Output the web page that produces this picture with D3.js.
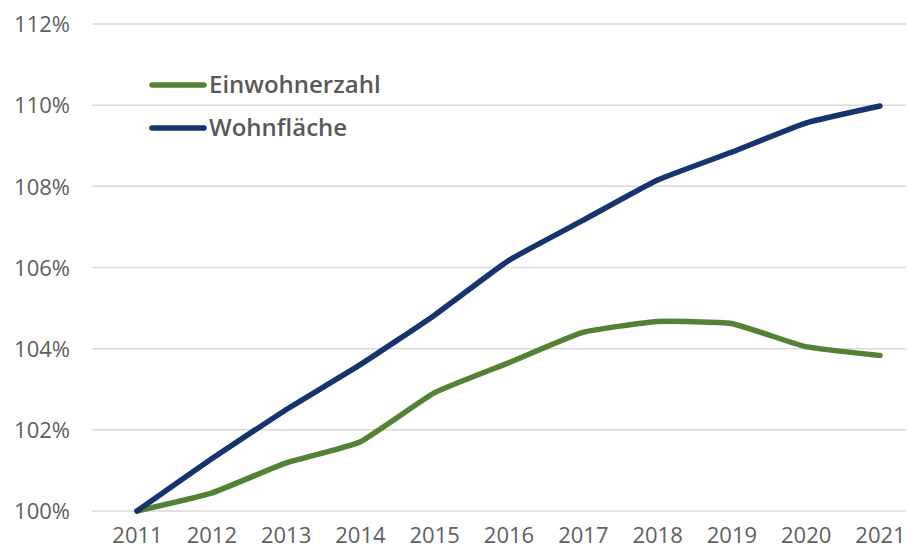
<!DOCTYPE html>
<html><head><meta charset="utf-8">
<script src="https://cdn.jsdelivr.net/npm/d3@7"></script>
<style>body{margin:0;background:#fff}svg{display:block}</style>
</head><body><svg id="c" width="907" height="548"></svg>
<script>
const years = [2011,2012,2013,2014,2015,2016,2017,2018,2019,2020,2021];
const einwohner = [100.0,100.44,101.18,101.7,102.91,103.65,104.4,104.67,104.62,104.05,103.83];
const wohnflaeche = [100.0,101.28,102.49,103.6,104.82,106.17,107.16,108.15,108.84,109.56,109.98];
const yTicks = [100,102,104,106,108,110,112];
const seriesNames = ["Einwohnerzahl","Wohnfläche"];
const colors = ["#548235","#16356E"];

const svg = d3.select("#c");
const x = d3.scalePoint().domain(years).range([137,880]);
const y = d3.scaleLinear().domain([100,112]).range([511,24]);

// gridlines
svg.append("g").selectAll("line").data(yTicks).join("line")
  .attr("x1",92).attr("x2",906)
  .attr("y1",d=>y(d)).attr("y2",d=>y(d))
  .attr("stroke","#d9d9d9").attr("stroke-width",1.5);

// y axis
const yAxis = d3.axisLeft(y).tickValues(yTicks).tickFormat(d=>d+"%").tickSize(0).tickPadding(0);
const ga = svg.append("g").attr("transform","translate(70,0)").call(yAxis);
ga.select(".domain").remove();
ga.selectAll("text").attr("font-family","Open Sans, sans-serif").attr("font-size",22)
  .attr("fill","#606060").attr("dy","0.35em");

// x axis
const xAxis = d3.axisBottom(x).tickSize(0).tickPadding(0);
const gx = svg.append("g").attr("transform","translate(0,543)").call(xAxis);
gx.select(".domain").remove();
gx.selectAll("text").attr("font-family","Open Sans, sans-serif").attr("font-size",22)
  .attr("fill","#606060").attr("dy","0");

const line = d3.line().x((d,i)=>x(years[i])).y(d=>y(d)).curve(d3.curveCardinal.tension(0.6));
[einwohner, wohnflaeche].forEach((s,k)=>{
  svg.append("path").attr("d",line(s)).attr("fill","none")
    .attr("stroke",colors[k]).attr("stroke-width",5.5).attr("stroke-linecap","round").attr("stroke-linejoin","round");
});

// legend
const leg = svg.append("g");
seriesNames.forEach((n,k)=>{
  const ly = 85 + k*43;
  leg.append("line").attr("x1",152).attr("x2",204).attr("y1",ly).attr("y2",ly)
    .attr("stroke",colors[k]).attr("stroke-width",5.5).attr("stroke-linecap","round");
  leg.append("text").attr("x",209).attr("y",ly).attr("dy","0.35em")
    .attr("font-family","Open Sans, sans-serif").attr("font-size",24).attr("font-weight",600)
    .attr("fill","#595959").text(n);
});
</script></body></html>
